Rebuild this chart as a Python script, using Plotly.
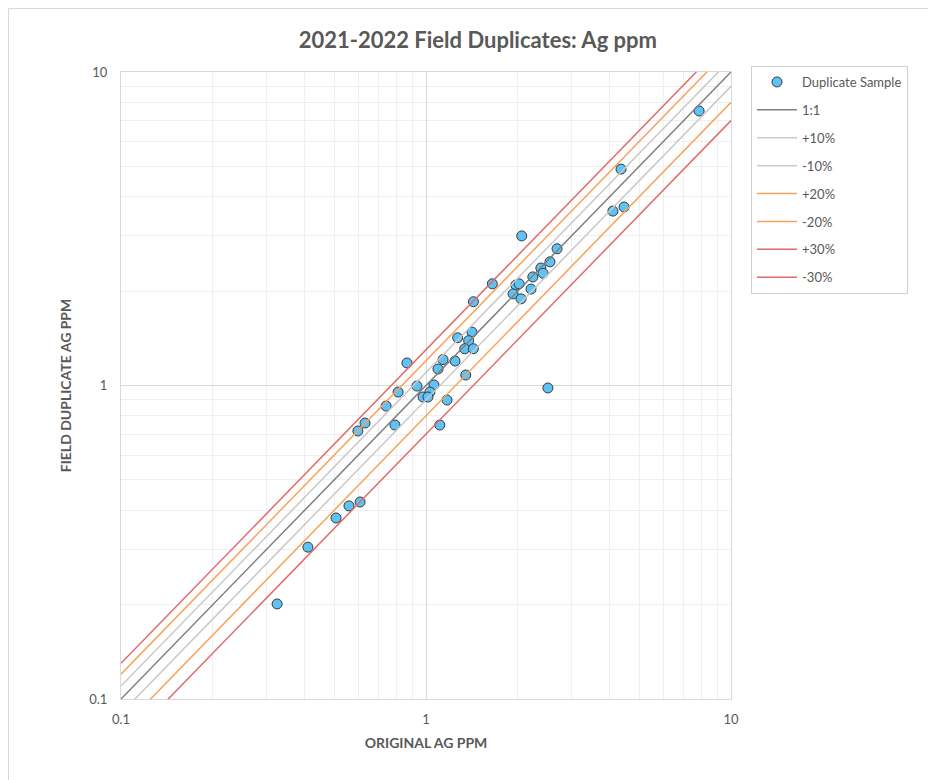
import plotly.graph_objects as go

# Data
original_ag = [7.86, 4.36, 4.10, 4.46, 2.06, 2.69, 2.55, 2.38, 2.42, 2.24,
               2.21, 1.65, 1.97, 2.02, 1.93, 2.05, 1.43, 1.415, 1.27, 1.38,
               1.34, 1.43, 1.137, 1.245, 0.866, 1.095, 1.35, 0.934, 1.062, 1.03,
               0.978, 1.015, 0.81, 1.172, 0.74, 2.51, 0.631, 0.598, 0.791, 1.11,
               0.608, 0.559, 0.507, 0.41, 0.325]
duplicate_ag = [7.51, 4.90, 3.60, 3.71, 3.00, 2.73, 2.48, 2.37, 2.28, 2.22,
                2.03, 2.11, 2.09, 2.11, 1.96, 1.89, 1.85, 1.48, 1.42, 1.39,
                1.31, 1.31, 1.21, 1.197, 1.18, 1.129, 1.08, 0.996, 1.004, 0.953,
                0.919, 0.919, 0.953, 0.899, 0.86, 0.982, 0.759, 0.716, 0.748, 0.748,
                0.425, 0.413, 0.378, 0.305, 0.201]

ref_x = [0.1, 10]
ref_names = ["1:1", "+10%", "-10%", "+20%", "-20%", "+30%", "-30%"]
ref_factors = [1.0, 1.1, 0.9, 1.2, 0.8, 1.3, 0.7]
ref_colors = ["#7f7f7f", "#c9c9c9", "#c9c9c9", "#f7a35c", "#f7a35c", "#e06a6a", "#e06a6a"]

tick_vals = [0.1, 1, 10]
tick_text = ["0.1", "1", "10"]

FONT = "Lato"
GRAY = "#595959"

fig = go.Figure()
fig.add_trace(go.Scatter(
    x=original_ag, y=duplicate_ag, mode="markers", name="Duplicate Sample",
    legendgroup="g0",
    marker=dict(size=10, color="#5fc2f4", line=dict(color="#3a3a3a", width=1)),
))
for i, (name, f, c) in enumerate(zip(ref_names, ref_factors, ref_colors)):
    fig.add_trace(go.Scatter(
        x=ref_x, y=[v * f for v in ref_x], mode="lines", name=name,
        legendgroup=f"g{i+1}",
        line=dict(color=c, width=1.5),
    ))

axis_common = dict(
    type="log", range=[-1, 1], tickvals=tick_vals, ticktext=tick_text,
    showgrid=True, gridcolor="#d9d9d9", gridwidth=1,
    minor=dict(showgrid=True, gridcolor="#efefef", dtick="D1", ticks=""),
    showline=True, linecolor="#d9d9d9", linewidth=1, mirror=True,
    zeroline=False, ticks="",
    tickfont=dict(family=FONT, size=13, color=GRAY),
)
fig.update_xaxes(**axis_common, ticklabelstandoff=8,
                 title=dict(text="<b>ORIGINAL AG PPM</b>", font=dict(family=FONT, size=14, color=GRAY),
                            standoff=12))
fig.update_yaxes(**axis_common, ticklabelstandoff=10,
                 title=dict(text="<b>FIELD DUPLICATE AG PPM</b>", font=dict(family=FONT, size=14, color=GRAY),
                            standoff=14))

fig.update_layout(
    width=936, height=780,
    margin=dict(l=113, r=213, t=64, b=89),
    paper_bgcolor="white", plot_bgcolor="white",
    title=dict(text="<b>2021-2022 Field Duplicates: Ag ppm</b>", x=0.502, xref="container",
               y=0.959, yref="container", xanchor="center", yanchor="middle",
               font=dict(family=FONT, size=22, color=GRAY)),
    legend=dict(x=1.0328, y=1.0096, xanchor="left", yanchor="top",
                bordercolor="#d0d0d0", borderwidth=1, bgcolor="white",
                font=dict(family=FONT, size=13, color=GRAY),
                tracegroupgap=8, itemwidth=40),
    showlegend=True,
    shapes=[dict(type="rect", xref="paper", yref="paper",
                 x0=-112.5 / 610, x1=1 + 212.5 / 610, y0=-88.5 / 627, y1=1 + 63.5 / 627,
                 line=dict(color="#d9d9d9", width=1), layer="below")],
)

fig.write_html("out.html")
